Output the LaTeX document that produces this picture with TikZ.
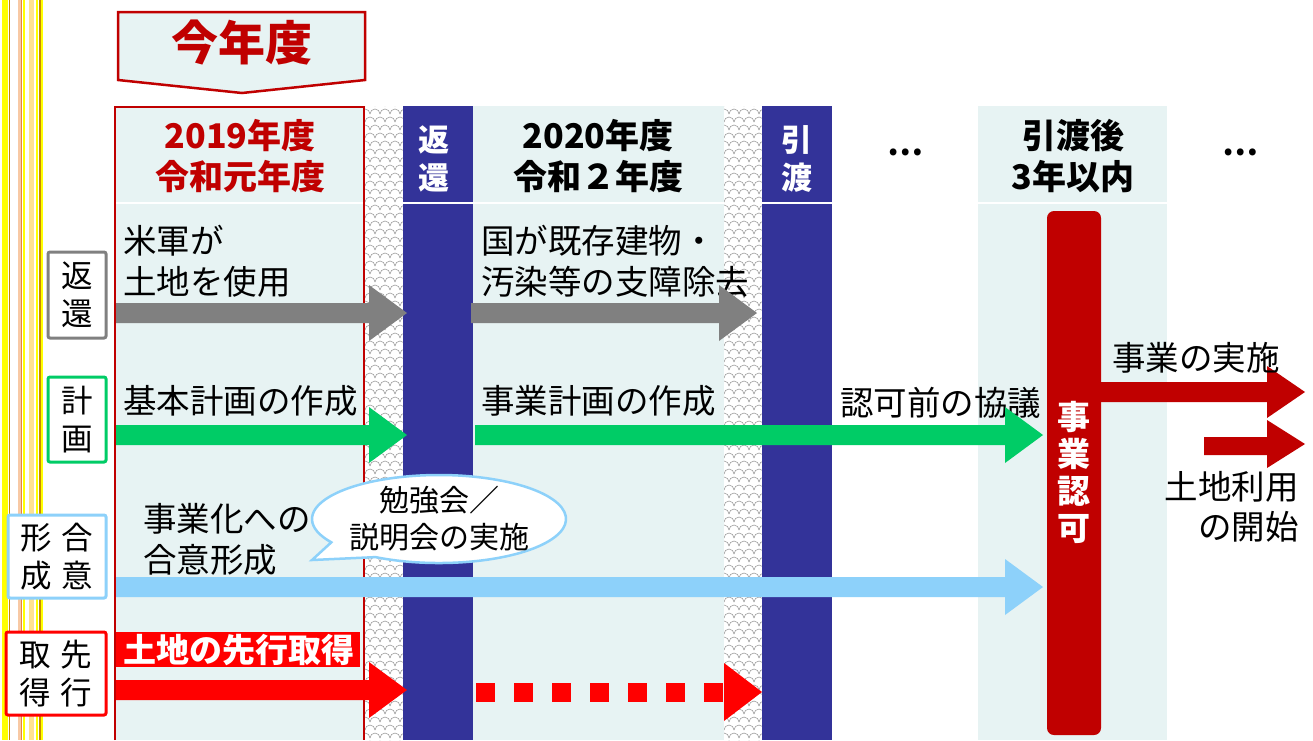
\documentclass[tikz,border=0pt]{standalone}
\usepackage{fontspec}
\setmainfont{Noto Sans CJK JP}
\definecolor{dred}{HTML}{C00000}
\definecolor{navy}{HTML}{333399}
\definecolor{pale}{HTML}{E7F3F3}
\definecolor{agreen}{HTML}{00CC66}
\definecolor{lblue}{HTML}{8DD1FA}
\definecolor{agrey}{HTML}{808080}
\definecolor{bred}{HTML}{FF0000}
\definecolor{syellow}{HTML}{FFFF00}
\definecolor{ssalmon}{HTML}{F8C9A4}
\definecolor{sorange}{HTML}{E8843C}
\definecolor{slight}{HTML}{FFE190}
\definecolor{sgold}{HTML}{C88A00}
\newcommand{\blockarrow}[4]{%
  \fill[#1] (#2,#4-10) -- (#3-38,#4-10) -- (#3-38,#4-28) -- (#3,#4)
    -- (#3-38,#4+28) -- (#3-38,#4+10) -- (#2,#4+10) -- cycle;}
\newcommand{\hatchcol}[1]{%
  \begin{scope}
    \clip (#1,106) rectangle (#1+38,740);
    \fill[white] (#1,106) rectangle (#1+38,740);
    \foreach \r in {0,...,80}{
      \foreach \c in {-1,...,4}{
        \draw[hatchline] ({#1+\c*10+mod(\r,2)*5},{106+\r*8})
          arc[start angle=180,end angle=360,radius=5];
      }
    }
  \end{scope}}
\begin{document}
\begin{tikzpicture}[x=1pt,y=-1pt,
  hatchline/.style={draw=gray!75,line width=0.6pt},
  body/.style={font=\fontsize{33.5}{41}\selectfont,inner sep=0pt,anchor=west,align=left},
  head/.style={font=\bfseries\fontsize{34}{41}\selectfont,inner sep=0pt,align=center},
  vhead/.style={font=\bfseries\fontsize{31}{38}\selectfont,inner sep=0pt,align=center,text=white},
  labbox/.style={line width=3pt,rounded corners=2pt,inner sep=0pt,align=center,
    font=\fontsize{31.5}{38}\selectfont,fill=white}]
\useasboundingbox (0,0) rectangle (1313,740);
\fill[white] (0,0) rectangle (1313,740);
% left decorative stripes
\fill[syellow] (2,0) rectangle (8,740);
\fill[sgold] (9,0) rectangle (10,740);
\fill[ssalmon] (17.5,0) rectangle (20.5,740);
\fill[sorange] (20.5,0) rectangle (22,740);
\fill[syellow] (23,0) rectangle (25,740);
\fill[slight] (29,0) rectangle (34,740);
\fill[syellow] (36,0) rectangle (38,740);
\fill[sgold] (39,0) rectangle (41,740);
\fill[syellow] (41,0) rectangle (43,740);
% columns
\fill[pale] (114,106) rectangle (365,740);
\hatchcol{365}
\fill[navy] (403,106) rectangle (473,740);
\fill[pale] (473,106) rectangle (724,740);
\hatchcol{724}
\fill[navy] (762,106) rectangle (832,740);
\fill[pale] (978,106) rectangle (1167,740);
\foreach \a/\b in {114/365,403/473,473/724,762/832,978/1167}
  \draw[white,line width=1.5pt] (\a,203) -- (\b,203);
\draw[dred,line width=2pt] (115,740) -- (115,107) -- (364,107) -- (364,740);
% this year marker
\draw[dred,line width=2.5pt,fill=pale] (118,12) -- (365,12) -- (365,80) -- (242,93) -- (118,80) -- cycle;
\node[font=\bfseries\fontsize{47}{47}\selectfont,text=dred,inner sep=0pt] (thisyear) at (242,43) {今年度};
% headers
\node[head,text=dred] (h2019) at (240,156) {2019年度\\令和元年度};
\node[head] (h2020) at (598,156) {2020年度\\令和２年度};
\node[head] (hafter) at (1073,156) {引渡後\\3年以内};
\node[vhead] (hret) at (434,159) {返\\還};
\node[vhead] (hhand) at (797,159) {引\\渡};
\node[font=\bfseries\fontsize{32}{32}\selectfont,inner sep=0pt] (dots1) at (905,152) {…};
\node[font=\bfseries\fontsize{32}{32}\selectfont,inner sep=0pt] (dots2) at (1240,152) {…};
% row labels
\node[labbox,draw=agrey,minimum width=58pt,minimum height=86pt] (lab1) at (77,295) {返\\還};
\node[labbox,draw=agreen,minimum width=58pt,minimum height=85pt] (lab2) at (77,419.5) {計\\画};
\node[labbox,draw=lblue,minimum width=98pt,minimum height=83pt] (lab3) at (57,556.5) {形\hspace{10pt}合\\成\hspace{10pt}意};
\node[labbox,draw=bred,minimum width=100pt,minimum height=83pt] (lab4) at (56,673.5) {取\hspace{10pt}先\\得\hspace{10pt}行};
% row 1
\node[body] (t11) at (123,261) {米軍が\\土地を使用};
\node[body] (t12) at (481,261) {国が既存建物・\\汚染等の支障除去};
\blockarrow{agrey}{116}{407}{313}
\blockarrow{agrey}{471}{757}{313}
% row 2
\node[body] (t21) at (123,401) {基本計画の作成};
\node[body] (t22) at (481,401) {事業計画の作成};
\node[body] (t23) at (840,403) {認可前の協議};
\blockarrow{agreen}{116}{407}{435}
\blockarrow{agreen}{475}{1043}{435}
% row 3
\node[body] (t31) at (143,539) {事業化への\\合意形成};
\blockarrow{lblue}{116}{1043}{587}
\draw[lblue,line width=2.5pt,fill=white] (312,560) -- ({439+127*cos(120)},{519+44*sin(120)})
  arc[start angle=120,end angle=-212,x radius=127,y radius=44] -- cycle;
\node[font=\fontsize{30}{37}\selectfont,inner sep=0pt,align=center] (callout) at (439,519) {勉強会／\\説明会の実施};
% row 4
\fill[bred] (116,632) rectangle (360,667);
\node[font=\bfseries\fontsize{33}{33}\selectfont,text=white,inner sep=0pt] (t41) at (239,650) {土地の先行取得};
\blockarrow{bred}{116}{407}{690}
\foreach \k in {0,...,6}
  \fill[bred] ({476+38*\k},683) rectangle ({495+38*\k},702);
\fill[bred] (724,663) -- (762,692) -- (724,721) -- cycle;
% approval bar
\fill[dred,rounded corners=7pt] (1047,211) rectangle (1101,735);
\node[font=\bfseries\fontsize{33}{37}\selectfont,text=white,inner sep=0pt,align=center] (approval) at (1074,472) {事\\業\\認\\可};
% branch arrows
\fill[dred] (1100,382) -- (1267,382) -- (1267,366) -- (1305,392) -- (1267,418) -- (1267,402) -- (1100,402) -- cycle;
\fill[dred] (1204,437) -- (1267,437) -- (1267,420) -- (1305,444) -- (1267,468) -- (1267,455) -- (1204,455) -- cycle;
\node[body] (t51) at (1112,358) {事業の実施};
\node[font=\fontsize{33.5}{40}\selectfont,inner sep=0pt,align=right,anchor=east] (t52) at (1299,507) {土地利用\\の開始};
\end{tikzpicture}
\end{document}
